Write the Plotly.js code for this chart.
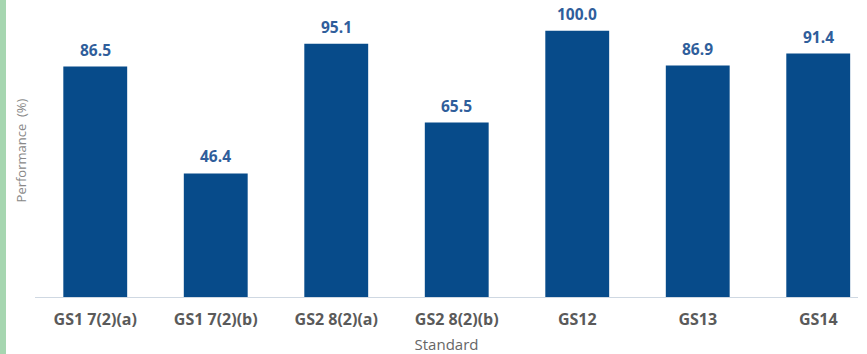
<!DOCTYPE html>
<html>
<head>
<meta charset="utf-8">
<script src="https://cdn.plot.ly/plotly-3.0.1.min.js"></script>
<style>
html,body{margin:0;padding:0;background:#fff;}
#chart{width:867px;height:354px;}
#strip{position:absolute;left:0;top:0;width:6px;height:354px;background:#a6d6b0;}
</style>
</head>
<body>
<div id="chart"></div>
<div id="strip"></div>
<script>
const categories = ["GS1 7(2)(a)", "GS1 7(2)(b)", "GS2 8(2)(a)", "GS2 8(2)(b)", "GS12", "GS13", "GS14"];
const tickLabels = ["GS1 7(2)(a)", "GS1 7(2)(b)", "GS2 8(2)(a)", "GS2 8(2)(b)", "GS12", "GS13", "GS14"];
const performance = [86.5, 46.4, 95.1, 65.5, 100.0, 86.9, 91.4];

const barColor = "#074b8a";
const labelColor = "#2f5e9b";

const trace = {
  type: "bar",
  x: categories.map((c, i) => i),
  y: performance,
  marker: {color: barColor},
  hoverinfo: "skip"
};

const annotations = performance.map((v, i) => ({
  x: i, y: v, xref: "x", yref: "y",
  text: v.toFixed(1),
  showarrow: false,
  yshift: 17,
  font: {family: "Open Sans, sans-serif", size: 15.5, color: labelColor, weight: 700}
}));

const layout = {
  width: 867, height: 354,
  margin: {l: 35, r: 9, t: 4, b: 57},
  paper_bgcolor: "#fff",
  plot_bgcolor: "#fff",
  bargap: 0.47,
  showlegend: false,
  font: {family: "Open Sans, sans-serif"},
  xaxis: {
    range: [-0.5, 6.33],
    tickmode: "array",
    tickvals: categories.map((c, i) => i),
    ticktext: tickLabels,
    tickfont: {family: "Open Sans, sans-serif", size: 16, color: "#5a5a5a", weight: 700},
    ticks: "outside", ticklen: 8, tickcolor: "rgba(0,0,0,0)",
    showline: true, linecolor: "#cfd8e2", linewidth: 1,
    showgrid: false, zeroline: false,
    title: {text: "Standard", font: {family: "Open Sans, sans-serif", size: 15, color: "#666"}, standoff: 10}
  },
  yaxis: {
    range: [0, 110],
    showticklabels: false, ticks: "",
    showgrid: false, zeroline: false, showline: false,
    title: {text: "Performance  (%)", font: {family: "Open Sans, sans-serif", size: 13, color: "#888"}, standoff: 4}
  },
  annotations: annotations
};

Plotly.newPlot("chart", [trace], layout, {displayModeBar: false, staticPlot: true});
</script>
</body>
</html>
